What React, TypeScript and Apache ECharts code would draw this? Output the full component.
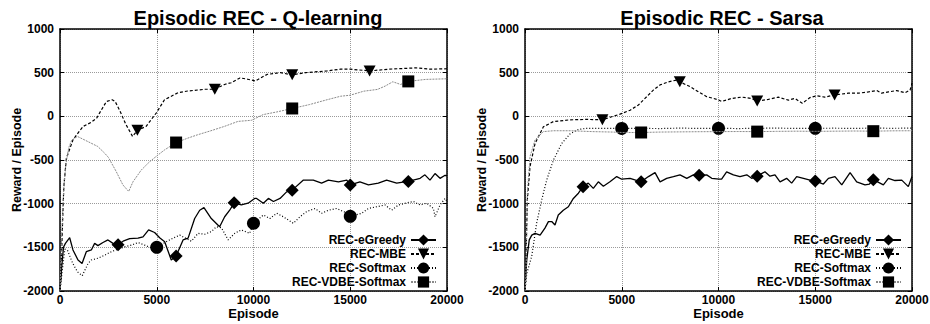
import React, { useEffect, useRef } from "react";
import * as echarts from "echarts";

// ---------- Q-learning (left) ----------
const qGreedyEp = [0, 80, 180, 280, 500, 670, 930, 1140, 1360, 1620, 1790, 1960, 2220, 2480, 2740, 3000, 3260, 3600, 4030, 4290, 4580, 4890, 5150, 5410, 5750, 6000, 6360, 6620, 6960, 7220, 7440, 7820, 8250, 8510, 8770, 9000, 9370, 9720, 10060, 10160, 10510, 10770, 11030, 11370, 11710, 12000, 12580, 13090, 13520, 13870, 14390, 14820, 15000, 15500, 15940, 16450, 16880, 17400, 17800, 18000, 18610, 18860, 19120, 19380, 19640, 19900, 20000];
const qGreedyVal = [-2000, -1750, -1500, -1455, -1390, -1530, -1645, -1685, -1550, -1530, -1455, -1480, -1445, -1415, -1455, -1470, -1430, -1400, -1395, -1380, -1300, -1330, -1390, -1435, -1645, -1600, -1415, -1395, -1170, -1075, -1045, -1170, -1265, -1150, -1075, -990, -1015, -995, -940, -940, -995, -940, -975, -940, -865, -845, -730, -730, -765, -730, -750, -730, -785, -750, -785, -765, -730, -765, -750, -745, -710, -670, -730, -655, -710, -675, -680];
const qGreedyMarks = [3000, 6000, 9000, 12000, 15000, 18000];

const qMbeEp = [0, 50, 100, 150, 200, 330, 670, 1000, 1200, 1600, 1900, 2050, 2400, 2700, 2850, 3100, 3400, 3750, 4000, 4450, 4980, 5400, 6100, 6600, 7500, 8000, 8500, 8850, 9300, 9700, 10100, 10700, 11400, 12000, 12700, 13800, 14500, 15000, 16000, 17000, 18400, 19100, 20000];
const qMbeVal = [-2000, -1800, -1450, -1100, -800, -480, -270, -170, -115, -70, -20, 40, 170, 190, 170, 60, -90, -230, -160, -115, 40, 190, 270, 290, 310, 310, 365, 385, 440, 425, 405, 480, 500, 475, 500, 520, 540, 540, 520, 540, 555, 540, 545];
const qMbeMarks = [4000, 8000, 12000, 16000];

const qSoftEp = [0, 100, 250, 400, 650, 900, 1150, 1450, 1620, 1960, 2310, 2650, 3000, 3340, 3690, 4030, 4380, 4720, 5000, 5410, 5840, 6190, 6440, 6790, 7130, 7480, 7820, 8080, 8340, 8690, 9030, 9370, 9800, 10000, 10510, 10850, 11200, 11540, 12060, 12400, 12750, 13180, 13520, 13870, 14300, 14640, 14900, 15000, 15590, 15940, 16370, 16800, 17140, 17490, 17830, 18260, 18610, 18950, 19300, 19380, 19640, 19900, 20000];
const qSoftVal = [-2000, -1800, -1520, -1540, -1680, -1780, -1825, -1685, -1645, -1625, -1590, -1550, -1520, -1495, -1475, -1445, -1475, -1505, -1500, -1445, -1395, -1360, -1390, -1430, -1340, -1350, -1320, -1265, -1275, -1415, -1340, -1300, -1340, -1225, -1130, -1170, -1110, -1150, -1225, -1150, -1090, -1055, -1110, -1075, -1055, -1090, -1110, -1145, -1110, -1055, -1035, -1015, -1075, -1015, -995, -975, -1015, -995, -1055, -1150, -1015, -940, -975];
const qSoftMarks = [5000, 10000, 15000];

const qVdbeEp = [0, 100, 200, 300, 450, 600, 900, 1450, 1950, 2300, 2500, 2900, 3250, 3550, 3770, 4200, 4630, 5050, 5400, 6000, 6600, 7100, 7800, 8500, 9200, 9900, 10500, 11200, 12000, 12900, 13800, 14500, 15000, 15700, 16400, 16800, 17200, 17600, 18000, 18900, 20000];
const qVdbeVal = [-2000, -1300, -800, -550, -360, -275, -230, -290, -345, -420, -470, -630, -785, -860, -750, -615, -520, -445, -385, -300, -250, -212, -165, -115, -58, -45, 20, 50, 90, 135, 190, 230, 242, 288, 308, 346, 396, 365, 400, 423, 430];
const qVdbeMarks = [6000, 12000, 18000];

// ---------- Sarsa (right) ----------
const sGreedyEp = [0, 90, 220, 350, 520, 780, 1030, 1210, 1380, 1550, 1720, 1980, 2240, 2500, 2760, 3000, 3270, 3530, 3790, 4050, 4390, 4740, 5000, 5430, 6000, 6380, 6720, 6980, 7320, 7670, 8010, 8360, 8700, 9000, 9390, 9650, 10030, 10160, 10420, 10770, 11110, 11460, 11710, 12000, 12400, 12660, 12920, 13180, 13520, 13780, 14040, 14390, 14730, 15000, 15420, 15680, 16020, 16370, 16800, 17140, 17570, 17800, 18000, 18520, 18780, 19120, 19470, 19810, 20000];
const sGreedyVal = [-2000, -1645, -1415, -1360, -1340, -1360, -1280, -1205, -1205, -1245, -1130, -1075, -1035, -940, -880, -805, -765, -825, -750, -800, -750, -690, -720, -710, -750, -690, -645, -750, -710, -690, -670, -710, -670, -675, -670, -710, -720, -720, -635, -670, -690, -670, -710, -685, -635, -685, -670, -750, -710, -765, -690, -710, -730, -740, -775, -710, -690, -785, -645, -750, -785, -775, -725, -785, -710, -735, -730, -805, -690];
const sGreedyMarks = [3000, 6000, 9000, 12000, 15000, 18000];

const sMbeEp = [0, 50, 120, 260, 520, 950, 1470, 2330, 3190, 4000, 4480, 4910, 5430, 5860, 6290, 6630, 6980, 7410, 7840, 8000, 8530, 8960, 9390, 9740, 10030, 10160, 10680, 11200, 11710, 12000, 12580, 13090, 13610, 13950, 14330, 14730, 15070, 15500, 16000, 16710, 17230, 17750, 18180, 18430, 18780, 19210, 19640, 19900, 20000];
const sMbeVal = [-2000, -1645, -960, -575, -310, -120, -60, -40, -35, -40, -5, 25, 70, 130, 225, 300, 360, 395, 415, 395, 340, 280, 225, 205, 185, 170, 205, 220, 205, 175, 195, 220, 185, 205, 150, 215, 235, 220, 245, 265, 265, 280, 295, 265, 280, 295, 270, 300, 380];
const sMbeMarks = [4000, 8000, 12000, 16000];

const sSoftEp = [0, 90, 345, 600, 860, 1120, 1470, 1900, 2330, 2760, 3190, 4050, 5000, 6000, 7000, 8000, 9000, 10000, 11000, 12000, 13000, 14000, 15000, 16000, 17000, 18000, 19000, 20000];
const sSoftVal = [-2000, -1800, -1605, -1225, -960, -730, -500, -310, -200, -150, -137, -137, -138, -138, -140, -135, -138, -137, -140, -137, -135, -138, -137, -136, -138, -135, -137, -135];
const sSoftMarks = [5000, 10000, 15000];

const sVdbeEp = [0, 50, 120, 260, 520, 950, 1470, 2330, 3500, 4500, 5000, 6000, 7000, 8000, 9000, 10000, 11000, 12000, 13000, 14000, 15000, 16000, 17000, 18000, 19000, 20000];
const sVdbeVal = [-2000, -1835, -880, -460, -270, -175, -165, -165, -175, -180, -185, -185, -180, -178, -176, -175, -174, -175, -172, -170, -172, -170, -168, -170, -166, -165];
const sVdbeMarks = [6000, 12000, 18000];

const seriesNames = ["REC-eGreedy", "REC-MBE", "REC-Softmax", "REC-VDBE-Softmax"];
const titles = ["Episodic REC - Q-learning", "Episodic REC - Sarsa"];

const FONT = "'Liberation Sans', Arial, Helvetica, sans-serif";

function build(ep: number[], val: number[], marks: number[]) {
  return ep.map((x, i) =>
    marks.includes(x) ? { value: [x, val[i]] } : { value: [x, val[i]], symbol: "none" }
  );
}

const styleFor: Record<string, any> = {
  "REC-eGreedy": {
    symbol: "diamond",
    symbolSize: 13,
    lineStyle: { color: "#000", width: 1.3, type: "solid" },
    itemStyle: { color: "#000" },
  },
  "REC-MBE": {
    symbol: "triangle",
    symbolRotate: 180,
    symbolSize: [12, 11],
    lineStyle: { color: "#000", width: 1.2, type: [3, 2] },
    itemStyle: { color: "#000" },
  },
  "REC-Softmax": {
    symbol: "circle",
    symbolSize: 13,
    lineStyle: { color: "#000", width: 1.2, type: [1, 2] },
    itemStyle: { color: "#000" },
  },
  "REC-VDBE-Softmax": {
    symbol: "rect",
    symbolSize: 12,
    lineStyle: { color: "#8a8a8a", width: 1, type: [2, 1] },
    itemStyle: { color: "#000" },
  },
};

const leftData = [
  build(qGreedyEp, qGreedyVal, qGreedyMarks),
  build(qMbeEp, qMbeVal, qMbeMarks),
  build(qSoftEp, qSoftVal, qSoftMarks),
  build(qVdbeEp, qVdbeVal, qVdbeMarks),
];
const rightData = [
  build(sGreedyEp, sGreedyVal, sGreedyMarks),
  build(sMbeEp, sMbeVal, sMbeMarks),
  build(sSoftEp, sSoftVal, sSoftMarks),
  build(sVdbeEp, sVdbeVal, sVdbeMarks),
];

const labelStyle = { color: "#000", fontWeight: "bold", fontSize: 12, fontFamily: FONT };
const frameLine = { show: true, onZero: false, lineStyle: { color: "#000", width: 1.5 } };
const tick = { show: true, inside: true, length: 4, lineStyle: { color: "#000" } };
const grid = { show: true, lineStyle: { color: "#9a9a9a", type: [1, 1], width: 1 } };

function mainX(gridIndex: number) {
  return {
    type: "value",
    gridIndex,
    position: "bottom",
    min: 0,
    max: 20000,
    interval: 5000,
    name: "Episode",
    nameLocation: "middle",
    nameGap: 16,
    nameMoveOverlap: false,
    nameTextStyle: { color: "#000", fontWeight: "bold", fontSize: 13, fontFamily: FONT },
    axisLine: frameLine,
    axisTick: tick,
    axisLabel: { ...labelStyle, margin: 3, formatter: (v: number) => String(v) },
    splitLine: grid,
  };
}
function mirrorX(gridIndex: number) {
  return {
    type: "value",
    gridIndex,
    position: "top",
    min: 0,
    max: 20000,
    interval: 5000,
    axisLine: frameLine,
    axisTick: tick,
    axisLabel: { show: false },
    splitLine: { show: false },
  };
}
function mainY(gridIndex: number) {
  return {
    type: "value",
    gridIndex,
    position: "left",
    min: -2000,
    max: 1000,
    interval: 500,
    name: "Reward / Episode",
    nameLocation: "middle",
    nameGap: 37,
    nameMoveOverlap: false,
    nameTextStyle: { color: "#000", fontWeight: "bold", fontSize: 12.5, fontFamily: FONT },
    axisLine: frameLine,
    axisTick: tick,
    axisLabel: { ...labelStyle, margin: 6, formatter: (v: number) => String(v) },
    splitLine: grid,
  };
}
function mirrorY(gridIndex: number) {
  return {
    type: "value",
    gridIndex,
    position: "right",
    min: -2000,
    max: 1000,
    interval: 500,
    axisLine: frameLine,
    axisTick: tick,
    axisLabel: { show: false },
    splitLine: { show: false },
  };
}

function legendAt(right: number) {
  return {
    orient: "vertical",
    right,
    top: 234,
    align: "right",
    itemWidth: 25,
    itemHeight: 14,
    itemGap: 2,
    padding: 0,
    selectedMode: false,
    data: seriesNames,
    textStyle: { color: "#000", fontWeight: "bold", fontSize: 12, fontFamily: FONT, lineHeight: 12 },
  };
}

export default function App() {
  const ref = useRef<HTMLDivElement>(null);
  useEffect(() => {
    document.body.style.margin = "0";
    if (!ref.current) return;
    const chart = echarts.init(ref.current, undefined, { renderer: "svg" });
    const series: any[] = [];
    [leftData, rightData].forEach((set, gi) => {
      set.forEach((data, si) => {
        const name = seriesNames[si];
        series.push({
          type: "line",
          name,
          xAxisIndex: gi,
          yAxisIndex: gi,
          data,
          showAllSymbol: true,
          smooth: false,
          z: 3 + si,
          ...styleFor[name],
        });
      });
    });
    chart.setOption({
      animation: false,
      backgroundColor: "#fff",
      textStyle: { fontFamily: FONT },
      title: [
        {
          text: titles[0],
          left: 253,
          top: 3,
          textAlign: "center",
          textStyle: { color: "#000", fontWeight: "bold", fontSize: 20, fontFamily: FONT },
        },
        {
          text: titles[1],
          left: 717,
          top: 3,
          textAlign: "center",
          textStyle: { color: "#000", fontWeight: "bold", fontSize: 20, fontFamily: FONT },
        },
      ],
      legend: [legendAt(493), legendAt(28)],
      grid: [
        { left: 60, top: 29, width: 387, height: 262, show: false, outerBoundsMode: "none", containLabel: false },
        { left: 525, top: 29, width: 387, height: 262, show: false, outerBoundsMode: "none", containLabel: false },
      ],
      xAxis: [mainX(0), mainX(1), mirrorX(0), mirrorX(1)],
      yAxis: [mainY(0), mainY(1), mirrorY(0), mirrorY(1)],
      series,
    });
    return () => chart.dispose();
  }, []);
  return <div ref={ref} style={{ width: 930, height: 324 }} />;
}
